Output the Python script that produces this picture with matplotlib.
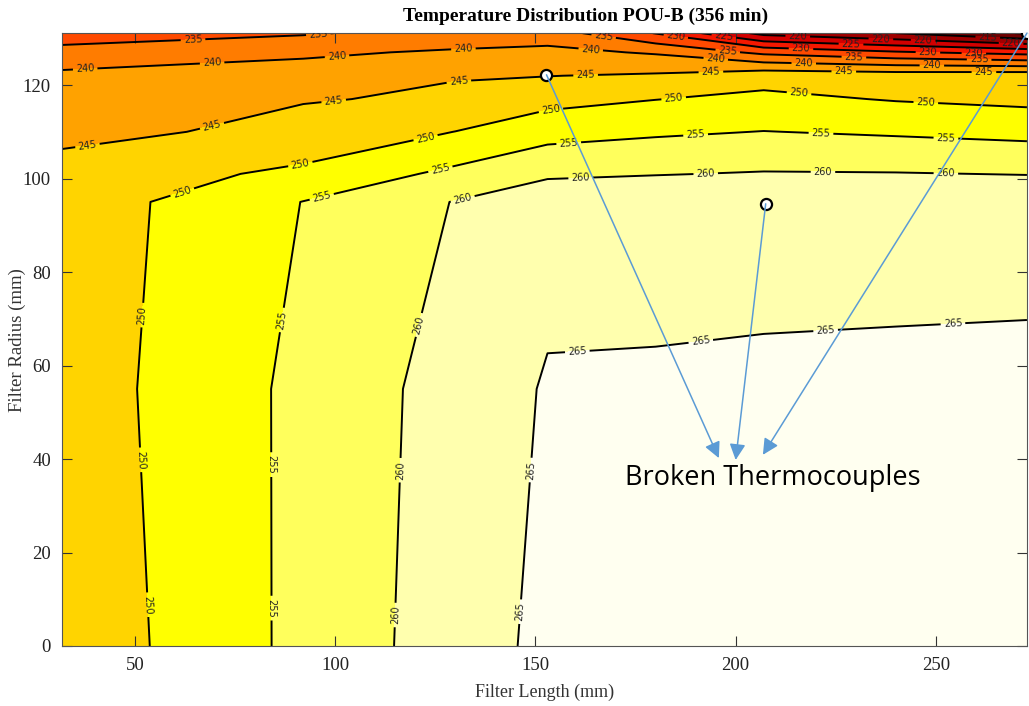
import numpy as np
import matplotlib.pyplot as plt

filter_length = [31.75, 92, 130, 153, 180, 207, 240, 272.75]
filter_radius = [0, 55, 95, 101, 110, 117, 122, 127, 131.1]

temp_r0 = [246.4, 256.3, 262.5, 266.2, 267.0, 267.5, 268.0, 268.5]
temp_r55 = [247.2, 256.2, 262.0, 265.4, 265.35, 265.5, 265.6, 265.7]
temp_r95 = [247.05, 255.1, 260.2, 263.3, 263.8, 263.8, 263.8, 263.8]
temp_r101 = [246.3, 251.3, 256.17, 259.25, 259.8, 260.3, 260.2, 259.85]
temp_r110 = [244.1, 245.84, 250.07, 253.15, 254.3, 255.1, 254.4, 253.6]
temp_r117 = [242.0, 244.85, 245.32, 248.4, 249.9, 251.1, 249.7, 248.8]
temp_r122 = [240.9, 242.15, 244.9, 244.9, 245.6, 248.2, 247.7, 248.1]
temp_r127 = [237.2, 239.2, 240.6, 241.3, 239.5, 233.8, 230.6, 228.2]
temp_r131 = [231.5, 234.5, 237.0, 237.5, 229.8, 218.5, 215.0, 209.5]

# termopares rotos (posicion) y donde apuntan las flechas
broken_x = [152.75, 207.5, 272.75]
broken_y = [122.2, 94.6, 131.1]
arrow_x = [195.8, 200.0, 206.8]
arrow_y = [40.2, 39.8, 40.9]

line_levels = list(range(210, 270, 5))
fill_levels = [205] + line_levels + [270]
band_colors = ['#3c0000', '#6e0000', '#a00000', '#d20000', '#f51800', '#ff4a00',
               '#ff7c00', '#ffa200', '#ffd400', '#ffff00', '#ffff5c', '#ffffae', '#fffff0']

# donde van las etiquetas de las isotermas (como en la figura original)
label_spots = [
    (263, 130.9), (236.3, 130.8), (268.8, 129.3),
    (215.5, 130.3), (246.8, 129.0),
    (197, 130.1), (228.8, 128.6), (259.5, 127.2),
    (185, 130.1), (216.3, 127.5), (248, 126.5),
    (64.5, 128.9), (95.8, 130.4), (167, 130.3), (198, 127.1), (229.5, 125.3), (260.8, 124.9),
    (37.5, 124.0), (69.2, 125.3), (100.4, 126.4), (132, 127.7), (163.8, 127.6),
    (195, 125.4), (217, 124.4), (249, 124.0),
    (38, 107.6), (68.8, 112.7), (99.5, 117.4), (130.8, 121.7), (162.5, 122.9),
    (193.8, 123.1), (227, 122.7), (262, 122.3),
    (51.5, 70.8), (50.8, 39.8), (52.5, 8.8), (62, 96.5), (91.3, 102.9), (122.5, 108.9),
    (153.8, 115.1), (184.5, 117.3), (215.8, 118.0), (247.5, 116.4),
    (87, 69.7), (83.8, 38.8), (84, 8.1), (96.8, 95.4), (126.3, 101.8), (158.3, 107.6),
    (190, 109.3), (221.3, 109.5), (252.5, 108.4),
    (120.8, 68.7), (116.3, 37.6), (115.8, 6.6), (132, 95.0), (161.3, 99.5),
    (192.5, 101.4), (221.8, 101.4), (252.5, 101.2),
    (149.5, 37.6), (146.8, 7.3), (160.5, 62.2), (191.3, 65.1), (222.5, 67.0), (254.3, 68.4),
]

temps = np.array([temp_r0, temp_r55, temp_r95, temp_r101, temp_r110,
                  temp_r117, temp_r122, temp_r127, temp_r131])
X, Y = np.meshgrid(filter_length, filter_radius)

fig = plt.figure(figsize=(10.29, 7.06), dpi=100)
ax = fig.add_axes([0.0603, 0.085, 0.9377, 0.868])

ax.contourf(X, Y, temps, levels=fill_levels, colors=band_colors)
cs = ax.contour(X, Y, temps, levels=line_levels, colors='black', linewidths=1.4)
ax.clabel(cs, inline=True, fontsize=7, fmt='%d', inline_spacing=3, manual=label_spots,
          colors='#222222')

ax.plot(broken_x, broken_y, 'o', markersize=8, markerfacecolor='white',
        markeredgecolor='black', markeredgewidth=1.6, zorder=5)
for i in range(len(broken_x)):
    ax.annotate('', xy=(arrow_x[i], arrow_y[i]), xytext=(broken_x[i], broken_y[i]),
                arrowprops=dict(arrowstyle='-|>', color='#5b9bd5', lw=1.1,
                                mutation_scale=24, shrinkA=0, shrinkB=0), zorder=6)
ax.text(209.3, 36.0, 'Broken Thermocouples', fontsize=19.5, family='Open Sans',
        ha='center', va='center', color='black')

ax.set_xlim(31.75, 272.75)
ax.set_ylim(0, 131.1)
ax.set_xticks([50, 100, 150, 200, 250])
ax.set_yticks([0, 20, 40, 60, 80, 100, 120])
ax.tick_params(direction='in', top=True, right=True, length=7, width=0.8,
               labelsize=13.5, colors='#333333', labelcolor='#222222')
ax.tick_params(axis='x', pad=8)
ax.tick_params(axis='y', pad=8)
for lab in ax.get_xticklabels() + ax.get_yticklabels():
    lab.set_family('Liberation Serif')
for sp in ax.spines.values():
    sp.set_color('#555555')

ax.set_xlabel('Filter Length (mm)', fontsize=13, family='Liberation Serif', color='#333333',
              labelpad=7)
ax.set_ylabel('Filter Radius (mm)', fontsize=13.5, family='Liberation Serif', color='#333333')
ax.yaxis.set_label_coords(-0.037, 0.5)
ax.set_title('Temperature Distribution POU-B (356 min)', fontsize=14, fontweight='bold',
             family='Liberation Serif', pad=9, x=0.543)

plt.savefig('out.png', dpi=100)
